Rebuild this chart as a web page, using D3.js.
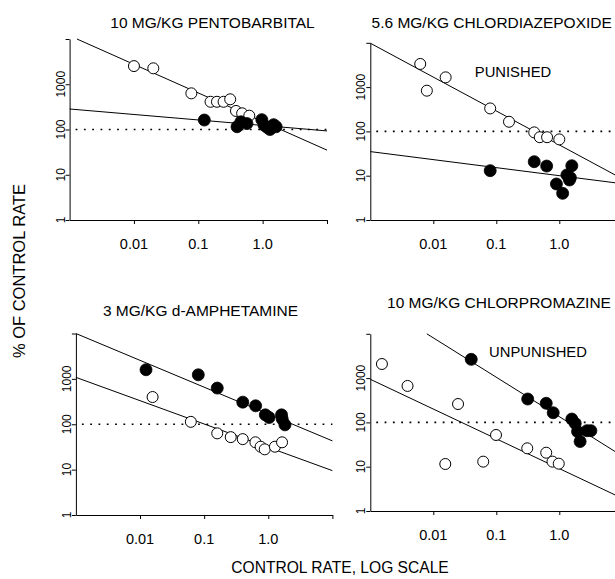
<!DOCTYPE html>
<html><head><meta charset="utf-8">
<script src="https://cdn.jsdelivr.net/npm/d3@7"></script>
<style>
body{margin:0;background:#fff}
svg{display:block;font-family:"Liberation Sans",Arial,Helvetica,sans-serif}
</style>
</head><body>
<svg id="chart" width="615" height="579"></svg>
<script>
// ---------- DATA ----------
const panelTitles = ["10 MG/KG PENTOBARBITAL", "5.6 MG/KG CHLORDIAZEPOXIDE", "3 MG/KG d-AMPHETAMINE", "10 MG/KG CHLORPROMAZINE"];
const xTickValues = [0.01, 0.1, 1, 10];
const xTickLabels = ["0.01", "0.1", "1.0", ""];
const yTickValues = [1, 10, 100, 1000, 10000];
const yTickLabels = ["1", "10", "100", "1000", ""];
const referenceLevel = 100;
const xAxisTitle = "CONTROL RATE, LOG SCALE";
const yAxisTitle = "% OF CONTROL RATE";
const panelNotes = ["", "PUNISHED", "", "UNPUNISHED"];

// Pentobarbital
const pentoOpen = [[0.010,2520],[0.020,2250],[0.078,630],[0.155,410],[0.195,410],[0.247,410],[0.313,465],[0.385,257],[0.48,228],[0.62,202]];
const pentoFilled = [[0.124,162],[0.40,115],[0.46,148],[0.57,135],[0.97,165],[1.05,125],[1.17,112],[1.30,100],[1.48,128],[1.62,115]];
const pentoOpenFit = [[0.0013,10000],[10,35]];
const pentoFilledFit = [[0.001,284],[10,93]];

// Chlordiazepoxide
const cdpOpen = [[0.0062,3330],[0.0079,830],[0.0157,1660],[0.080,330],[0.159,165],[0.40,95],[0.49,74],[0.64,74],[1.0,66]];
const cdpFilled = [[0.080,13],[0.40,20.7],[0.63,16.5],[1.58,16.8],[1.32,10.4],[1.50,9],[1.45,8],[0.90,6.5],[1.13,4.0]];
const cdpOpenFit = [[0.001,9800],[10,8.5]];
const cdpFilledFit = [[0.001,35],[10,6.6]];

// d-Amphetamine
const amphOpen = [[0.0157,398],[0.062,113],[0.16,63],[0.26,52],[0.40,47],[0.63,40],[0.76,32],[0.88,28],[1.27,32],[1.64,40]];
const amphFilled = [[0.0124,1590],[0.081,1230],[0.16,627],[0.40,307],[0.635,255],[0.90,161],[1.03,141],[1.61,161],[1.65,130],[1.82,97]];
const amphOpenFit = [[0.001,1080],[10,9.5]];
const amphFilledFit = [[0.001,10000],[10,43]];

// Chlorpromazine
const cpzOpen = [[0.00153,2080],[0.0039,665],[0.0247,260],[0.0155,11.5],[0.062,13],[0.099,52],[0.31,26],[0.62,20.7],[0.78,13],[0.98,11.7]];
const cpzFilled = [[0.040,2650],[0.315,337],[0.62,270],[0.80,165],[1.58,119],[1.79,95],[1.95,62],[2.14,37],[2.75,65],[3.17,65]];
const cpzOpenFit = [[0.001,940],[10,1.93]];
const cpzFilledFit = [[0.0079,10000],[10,17.4]];

// ---------- LAYOUT ----------
const panels = [
  {open: pentoOpen, filled: pentoFilled, openFit: pentoOpenFit, filledFit: pentoFilledFit,
   x0: 69.6, x1: 327, yb: 220, yt: 39, tx: 212.5, ty: 28, nx: 0, ny: 0},
  {open: cdpOpen, filled: cdpFilled, openFit: cdpOpenFit, filledFit: cdpFilledFit,
   x0: 370.3, x1: 622.3, yb: 220, yt: 42.8, tx: 491.7, ty: 28, nx: 513, ny: 77},
  {open: amphOpen, filled: amphFilled, openFit: amphOpenFit, filledFit: amphFilledFit,
   x0: 75.9, x1: 332.4, yb: 515, yt: 333.5, tx: 200.5, ty: 316, nx: 0, ny: 0},
  {open: cpzOpen, filled: cpzFilled, openFit: cpzOpenFit, filledFit: cpzFilledFit,
   x0: 370.3, x1: 622.3, yb: 511, yt: 333.8, tx: 499, ty: 308, nx: 538, ny: 357}
];

const svg = d3.select("#chart");
const FONT_TICK = 14.5, FONT_YTICK = 12, FONT_PANEL = 15.5, FONT_NOTE = 14.8;

panels.forEach((p, i) => {
  const x = d3.scaleLog().domain([0.001, 10]).range([p.x0, p.x1]);
  const y = d3.scaleLog().domain([1, 10000]).range([p.yb, p.yt]);
  const g = svg.append("g");

  // axes
  const xAxis = g.append("g").attr("transform", `translate(0,${p.yb})`)
    .call(d3.axisBottom(x).tickValues(xTickValues).tickSize(4).tickSizeOuter(0).tickFormat(() => ""));
  const yAxis = g.append("g").attr("transform", `translate(${p.x0},0)`)
    .call(d3.axisLeft(y).tickValues(yTickValues).tickSize(4).tickSizeOuter(0).tickFormat(() => ""));
  [xAxis, yAxis].forEach(a => {
    a.selectAll("path.domain").attr("stroke", "#000").attr("stroke-width", 1);
    a.selectAll(".tick line").attr("stroke", "#000").attr("stroke-width", 1);
  });

  // x tick labels
  g.selectAll(".xl").data(xTickValues).enter().append("text")
    .attr("x", d => x(d)).attr("y", p.yb + 29)
    .attr("text-anchor", "middle").attr("font-size", FONT_TICK)
    .text((d, k) => xTickLabels[k]);

  // y tick labels (rotated)
  g.selectAll(".yl").data(yTickValues).enter().append("text")
    .attr("transform", d => `translate(${p.x0 - 5},${y(d)}) rotate(-90)`)
    .attr("text-anchor", "middle").attr("font-size", FONT_YTICK)
    .text((d, k) => yTickLabels[k]);

  // reference dotted line at 100%
  g.append("line")
    .attr("x1", x(0.001)).attr("x2", x(10))
    .attr("y1", y(referenceLevel)).attr("y2", y(referenceLevel))
    .attr("stroke", "#000").attr("stroke-width", 1.6)
    .attr("stroke-dasharray", "1.8,6.5").attr("stroke-dashoffset", -6);

  // fitted lines
  const line = d3.line().x(d => x(d[0])).y(d => y(d[1]));
  [p.openFit, p.filledFit].forEach(f => {
    g.append("path").attr("d", line(f)).attr("fill", "none")
      .attr("stroke", "#000").attr("stroke-width", 1);
  });

  // points
  g.selectAll(".o").data(p.open).enter().append("circle")
    .attr("cx", d => x(d[0])).attr("cy", d => y(d[1])).attr("r", 5.5)
    .attr("fill", "#fff").attr("stroke", "#000").attr("stroke-width", 1);
  g.selectAll(".f").data(p.filled).enter().append("circle")
    .attr("cx", d => x(d[0])).attr("cy", d => y(d[1])).attr("r", 6)
    .attr("fill", "#000").attr("stroke", "#000").attr("stroke-width", 0.8);

  // title
  g.append("text").attr("x", p.tx).attr("y", p.ty).attr("text-anchor", "middle")
    .attr("font-size", FONT_PANEL).text(panelTitles[i]);
  if (panelNotes[i]) {
    g.append("text").attr("x", p.nx).attr("y", p.ny).attr("text-anchor", "middle")
      .attr("font-size", FONT_NOTE).text(panelNotes[i]);
  }
});

// overall axis titles
svg.append("text").attr("x", 340).attr("y", 573).attr("text-anchor", "middle")
  .attr("font-size", 15.6).text(xAxisTitle);
svg.append("text").attr("transform", "translate(25,271) rotate(-90)").attr("text-anchor", "middle")
  .attr("font-size", 16.5).text(yAxisTitle);
</script>
</body></html>
